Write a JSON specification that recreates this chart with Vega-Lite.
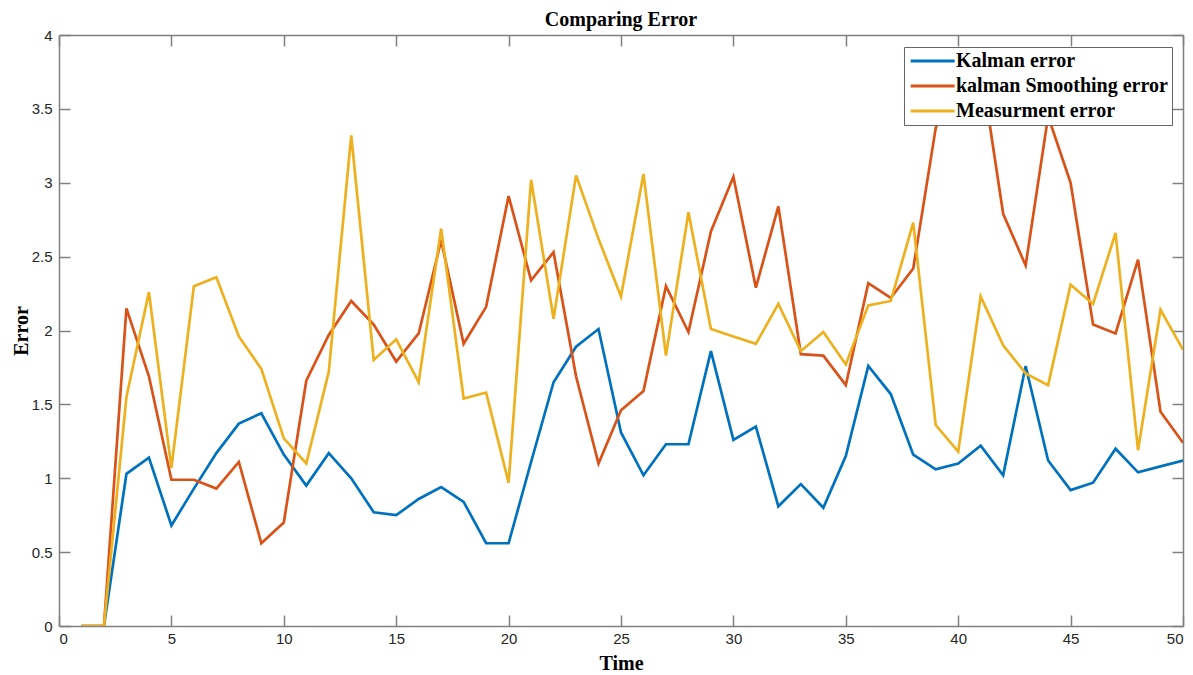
{
  "$schema": "https://vega.github.io/schema/vega-lite/v6.json",
  "width": 1124,
  "height": 591,
  "autosize": {"type": "none"},
  "padding": {"left": 59, "top": 35, "right": 10, "bottom": 49},
  "background": "white",
  "title": {"text": "Comparing Error", "font": "Liberation Serif", "fontSize": 20, "fontWeight": "bold", "color": "#000", "offset": -2},
  "data": {"values": [
    {"t":1,"s":"Kalman error","e":0},{"t":2,"s":"Kalman error","e":0},{"t":3,"s":"Kalman error","e":1.03},{"t":4,"s":"Kalman error","e":1.14},{"t":5,"s":"Kalman error","e":0.68},{"t":6,"s":"Kalman error","e":0.93},{"t":7,"s":"Kalman error","e":1.17},{"t":8,"s":"Kalman error","e":1.37},{"t":9,"s":"Kalman error","e":1.44},{"t":10,"s":"Kalman error","e":1.16},
    {"t":11,"s":"Kalman error","e":0.95},{"t":12,"s":"Kalman error","e":1.17},{"t":13,"s":"Kalman error","e":1.00},{"t":14,"s":"Kalman error","e":0.77},{"t":15,"s":"Kalman error","e":0.75},{"t":16,"s":"Kalman error","e":0.86},{"t":17,"s":"Kalman error","e":0.94},{"t":18,"s":"Kalman error","e":0.84},{"t":19,"s":"Kalman error","e":0.56},{"t":20,"s":"Kalman error","e":0.56},
    {"t":21,"s":"Kalman error","e":1.11},{"t":22,"s":"Kalman error","e":1.65},{"t":23,"s":"Kalman error","e":1.89},{"t":24,"s":"Kalman error","e":2.01},{"t":25,"s":"Kalman error","e":1.31},{"t":26,"s":"Kalman error","e":1.02},{"t":27,"s":"Kalman error","e":1.23},{"t":28,"s":"Kalman error","e":1.23},{"t":29,"s":"Kalman error","e":1.86},{"t":30,"s":"Kalman error","e":1.26},
    {"t":31,"s":"Kalman error","e":1.35},{"t":32,"s":"Kalman error","e":0.81},{"t":33,"s":"Kalman error","e":0.96},{"t":34,"s":"Kalman error","e":0.80},{"t":35,"s":"Kalman error","e":1.15},{"t":36,"s":"Kalman error","e":1.76},{"t":37,"s":"Kalman error","e":1.57},{"t":38,"s":"Kalman error","e":1.16},{"t":39,"s":"Kalman error","e":1.06},{"t":40,"s":"Kalman error","e":1.10},
    {"t":41,"s":"Kalman error","e":1.22},{"t":42,"s":"Kalman error","e":1.02},{"t":43,"s":"Kalman error","e":1.76},{"t":44,"s":"Kalman error","e":1.12},{"t":45,"s":"Kalman error","e":0.92},{"t":46,"s":"Kalman error","e":0.97},{"t":47,"s":"Kalman error","e":1.20},{"t":48,"s":"Kalman error","e":1.04},{"t":49,"s":"Kalman error","e":1.08},{"t":50,"s":"Kalman error","e":1.12},

    {"t":1,"s":"kalman Smoothing error","e":0},{"t":2,"s":"kalman Smoothing error","e":0},{"t":3,"s":"kalman Smoothing error","e":2.15},{"t":4,"s":"kalman Smoothing error","e":1.69},{"t":5,"s":"kalman Smoothing error","e":0.99},{"t":6,"s":"kalman Smoothing error","e":0.99},{"t":7,"s":"kalman Smoothing error","e":0.93},{"t":8,"s":"kalman Smoothing error","e":1.11},{"t":9,"s":"kalman Smoothing error","e":0.56},{"t":10,"s":"kalman Smoothing error","e":0.70},
    {"t":11,"s":"kalman Smoothing error","e":1.66},{"t":12,"s":"kalman Smoothing error","e":1.97},{"t":13,"s":"kalman Smoothing error","e":2.20},{"t":14,"s":"kalman Smoothing error","e":2.04},{"t":15,"s":"kalman Smoothing error","e":1.79},{"t":16,"s":"kalman Smoothing error","e":1.98},{"t":17,"s":"kalman Smoothing error","e":2.61},{"t":18,"s":"kalman Smoothing error","e":1.91},{"t":19,"s":"kalman Smoothing error","e":2.16},{"t":20,"s":"kalman Smoothing error","e":2.91},
    {"t":21,"s":"kalman Smoothing error","e":2.34},{"t":22,"s":"kalman Smoothing error","e":2.53},{"t":23,"s":"kalman Smoothing error","e":1.69},{"t":24,"s":"kalman Smoothing error","e":1.10},{"t":25,"s":"kalman Smoothing error","e":1.46},{"t":26,"s":"kalman Smoothing error","e":1.59},{"t":27,"s":"kalman Smoothing error","e":2.30},{"t":28,"s":"kalman Smoothing error","e":1.99},{"t":29,"s":"kalman Smoothing error","e":2.67},{"t":30,"s":"kalman Smoothing error","e":3.04},
    {"t":31,"s":"kalman Smoothing error","e":2.29},{"t":32,"s":"kalman Smoothing error","e":2.84},{"t":33,"s":"kalman Smoothing error","e":1.84},{"t":34,"s":"kalman Smoothing error","e":1.83},{"t":35,"s":"kalman Smoothing error","e":1.63},{"t":36,"s":"kalman Smoothing error","e":2.32},{"t":37,"s":"kalman Smoothing error","e":2.22},{"t":38,"s":"kalman Smoothing error","e":2.42},{"t":39,"s":"kalman Smoothing error","e":3.37},{"t":40,"s":"kalman Smoothing error","e":3.75},
    {"t":41,"s":"kalman Smoothing error","e":3.80},{"t":42,"s":"kalman Smoothing error","e":2.79},{"t":43,"s":"kalman Smoothing error","e":2.44},{"t":44,"s":"kalman Smoothing error","e":3.45},{"t":45,"s":"kalman Smoothing error","e":3.00},{"t":46,"s":"kalman Smoothing error","e":2.04},{"t":47,"s":"kalman Smoothing error","e":1.98},{"t":48,"s":"kalman Smoothing error","e":2.48},{"t":49,"s":"kalman Smoothing error","e":1.45},{"t":50,"s":"kalman Smoothing error","e":1.24},

    {"t":1,"s":"Measurment error","e":0},{"t":2,"s":"Measurment error","e":0},{"t":3,"s":"Measurment error","e":1.55},{"t":4,"s":"Measurment error","e":2.26},{"t":5,"s":"Measurment error","e":1.07},{"t":6,"s":"Measurment error","e":2.30},{"t":7,"s":"Measurment error","e":2.36},{"t":8,"s":"Measurment error","e":1.96},{"t":9,"s":"Measurment error","e":1.74},{"t":10,"s":"Measurment error","e":1.27},
    {"t":11,"s":"Measurment error","e":1.10},{"t":12,"s":"Measurment error","e":1.72},{"t":13,"s":"Measurment error","e":3.32},{"t":14,"s":"Measurment error","e":1.80},{"t":15,"s":"Measurment error","e":1.94},{"t":16,"s":"Measurment error","e":1.65},{"t":17,"s":"Measurment error","e":2.69},{"t":18,"s":"Measurment error","e":1.54},{"t":19,"s":"Measurment error","e":1.58},{"t":20,"s":"Measurment error","e":0.97},
    {"t":21,"s":"Measurment error","e":3.02},{"t":22,"s":"Measurment error","e":2.08},{"t":23,"s":"Measurment error","e":3.05},{"t":24,"s":"Measurment error","e":2.62},{"t":25,"s":"Measurment error","e":2.23},{"t":26,"s":"Measurment error","e":3.06},{"t":27,"s":"Measurment error","e":1.83},{"t":28,"s":"Measurment error","e":2.80},{"t":29,"s":"Measurment error","e":2.01},{"t":30,"s":"Measurment error","e":1.96},
    {"t":31,"s":"Measurment error","e":1.91},{"t":32,"s":"Measurment error","e":2.18},{"t":33,"s":"Measurment error","e":1.86},{"t":34,"s":"Measurment error","e":1.99},{"t":35,"s":"Measurment error","e":1.77},{"t":36,"s":"Measurment error","e":2.17},{"t":37,"s":"Measurment error","e":2.20},{"t":38,"s":"Measurment error","e":2.73},{"t":39,"s":"Measurment error","e":1.36},{"t":40,"s":"Measurment error","e":1.18},
    {"t":41,"s":"Measurment error","e":2.23},{"t":42,"s":"Measurment error","e":1.90},{"t":43,"s":"Measurment error","e":1.71},{"t":44,"s":"Measurment error","e":1.63},{"t":45,"s":"Measurment error","e":2.31},{"t":46,"s":"Measurment error","e":2.18},{"t":47,"s":"Measurment error","e":2.66},{"t":48,"s":"Measurment error","e":1.19},{"t":49,"s":"Measurment error","e":2.14},{"t":50,"s":"Measurment error","e":1.87}
  ]},
  "layer": [
    {
      "mark": {"type": "line", "strokeWidth": 2.7, "clip": true},
      "encoding": {
        "x": {"field": "t", "type": "quantitative", "scale": {"domain": [0, 50], "nice": false, "zero": false},
              "axis": {"orient": "bottom", "title": "Time", "values": [0,5,10,15,20,25,30,35,40,45,50], "grid": false,
                       "tickSize": -11, "labelPadding": 16, "titlePadding": 7}},
        "y": {"field": "e", "type": "quantitative", "scale": {"domain": [0, 4], "nice": false},
              "axis": {"orient": "left", "title": "Error", "values": [0,0.5,1,1.5,2,2.5,3,3.5,4], "format": ".1~f", "grid": false,
                       "tickSize": -11, "labelPadding": 18, "titlePadding": 0}},
        "color": {"field": "s", "type": "nominal",
                  "scale": {"domain": ["Kalman error", "kalman Smoothing error", "Measurment error"], "range": ["#0072BD", "#D95319", "#EDB120"]},
                  "legend": {"orient": "none", "legendX": 845, "legendY": 12, "title": null, "symbolType": "M-1,0H5", "symbolSize": 215,
                             "symbolStrokeWidth": 3, "labelFont": "Liberation Serif", "labelFontSize": 20, "labelFontWeight": "bold",
                             "labelColor": "#000", "labelLimit": 400, "strokeColor": "#666", "fillColor": "white", "padding": 4, "rowPadding": 5, "labelOffset": 28}}
      }
    },
    {
      "mark": {"type": "line", "opacity": 0},
      "encoding": {
        "x": {"field": "t", "type": "quantitative", "scale": {"domain": [0, 50], "nice": false, "zero": false},
              "axis": {"orient": "top", "title": null, "labels": false, "values": [0,5,10,15,20,25,30,35,40,45,50], "grid": false, "tickSize": -11}},
        "y": {"field": "e", "type": "quantitative", "scale": {"domain": [0, 4], "nice": false},
              "axis": {"orient": "right", "title": null, "labels": false, "values": [0,0.5,1,1.5,2,2.5,3,3.5,4], "grid": false, "tickSize": -11}},
        "detail": {"field": "s"}
      }
    }
  ],
  "resolve": {"axis": {"x": "independent", "y": "independent"}},
  "config": {
    "view": {"stroke": null},
    "axis": {"domainColor": "#808080", "tickColor": "#808080", "domainWidth": 1.5, "tickWidth": 1.5,
             "labelFont": "Liberation Sans", "labelFontSize": 15, "labelColor": "#262626",
             "titleFont": "Liberation Serif", "titleFontSize": 20, "titleFontWeight": "bold", "titleColor": "#000"}
  }
}
